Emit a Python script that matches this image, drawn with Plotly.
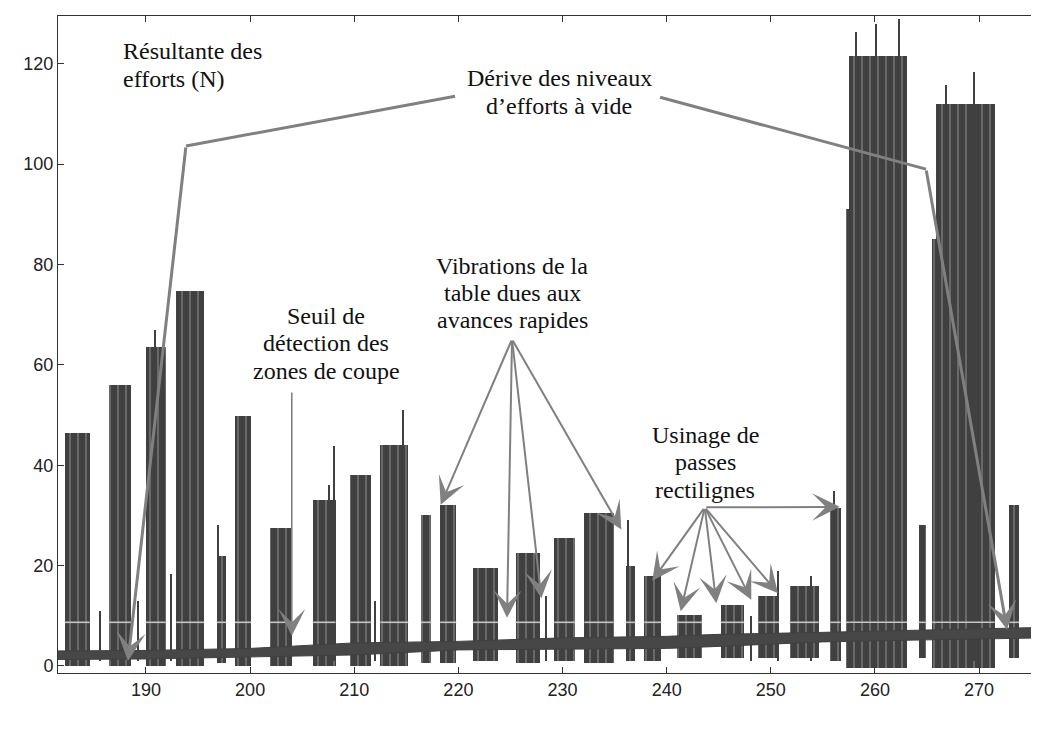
import plotly.graph_objects as go

# ---------------- data ----------------
# cutting zones (dense force oscillations): start / end time (s), top level (N), bottom level (N)
block_start = [182.2, 186.45, 190.0, 192.9, 196.8, 198.55, 201.9, 206.05, 209.6, 212.5, 216.4, 218.25,
               221.4, 225.5, 229.2, 232.1, 236.1, 237.85, 241.0, 245.2, 248.8, 251.8, 255.7,
               257.2, 257.55, 264.2, 265.5, 265.87, 272.9]
block_end = [184.6, 188.6, 191.9, 195.6, 197.7, 200.1, 204.0, 208.2, 211.6, 215.2, 217.4, 219.8,
             223.8, 227.85, 231.2, 234.9, 237.0, 239.5, 243.4, 247.45, 250.8, 254.6, 256.7,
             257.55, 263.1, 264.95, 265.87, 271.5, 273.85]
block_top = [46.5, 56.0, 63.5, 74.7, 22.0, 49.8, 27.5, 33.0, 38.0, 44.0, 30.0, 32.0,
             19.5, 22.5, 25.5, 30.5, 20.0, 18.0, 10.2, 12.2, 14.0, 16.0, 31.5,
             91.0, 121.5, 28.0, 85.0, 112.0, 32.0]
block_bottom = [0.0, 0.0, 0.0, 0.0, 0.5, 0.0, 0.0, 0.0, 0.0, 0.0, 0.5, 0.5,
                1.0, 0.5, 1.0, 0.5, 1.0, 1.0, 1.5, 1.5, 1.5, 1.5, 1.0,
                -0.4, -0.4, 1.5, -0.4, -0.4, 1.5]

# isolated peaks
spike_t = [185.6, 189.2, 190.84, 192.4, 196.9, 207.6, 208.06, 212.0, 214.7, 228.4, 236.3,
           248.1, 250.7, 253.9, 256.1, 258.16, 260.08, 262.29, 266.8, 269.49]
spike_top = [11.0, 13.0, 67.0, 18.3, 28.0, 36.0, 43.8, 13.0, 51.0, 14.0, 29.0,
             10.0, 19.0, 18.0, 34.9, 126.4, 128.0, 129.0, 115.7, 118.3]

# idle-force noise band (no-load level drift)
base_t = [181.55, 190, 200, 210, 220, 230, 240, 245, 255, 265, 276.43]
base_lo = [1.3, 1.4, 1.8, 2.2, 3.2, 3.3, 3.5, 3.9, 4.8, 5.2, 5.6]
base_hi = [3.0, 3.1, 3.5, 4.6, 4.9, 5.6, 5.9, 6.3, 6.7, 7.2, 7.7]

threshold = 8.7

# annotation geometry (data coordinates)
drift_left = dict(start=(219.68, 113.5), kink=(193.84, 103.6), tip=(188.27, 1.0))
drift_right = dict(start=(239.37, 113.3), kink=(264.91, 99.0), tip=(272.69, 7.2))
seuil_arrow = dict(start=(204.0, 54.8), tip=(204.0, 6.0))
vib_origin = (225.15, 65.1)
vib_tip_x = [218.3, 224.67, 227.97, 235.65]
vib_tip_y = [32.1, 9.6, 13.5, 27.2]
usi_origin = (243.66, 31.6)
usi_tip_x = [238.62, 241.35, 244.77, 248.13, 250.7, 256.62]
usi_tip_y = [17.0, 10.9, 12.5, 13.2, 14.5, 31.7]

labels = [
    # (text, x, y, anchor)
    ("Résultante des", 187.6, 122.5, "left"),
    ("efforts (N)", 187.6, 116.9, "left"),
    ("Dérive des niveaux", 229.67, 117.1, "center"),
    ("d’efforts à vide", 229.67, 111.6, "center"),
    ("Seuil de", 207.29, 69.7, "center"),
    ("détection des", 207.29, 64.3, "center"),
    ("zones de coupe", 207.29, 58.8, "center"),
    ("Vibrations de la", 225.15, 79.7, "center"),
    ("table dues aux", 225.15, 74.3, "center"),
    ("avances rapides", 225.15, 68.9, "center"),
    ("Usinage de", 243.69, 46.0, "center"),
    ("passes", 243.69, 40.6, "center"),
    ("rectilignes", 243.69, 35.1, "center"),
    ("temps (s)", 268.27, -11.75, "center"),
]

x_ticks = [190, 200, 210, 220, 230, 240, 250, 260, 270]
y_ticks = [0, 20, 40, 60, 80, 100, 120]
x_range = [181.55, 276.43]
y_range = [-1.4, 129.5]

# ---------------- figure ----------------
DARK = "#404040"
ARROW = "#808080"
SERIF = "Liberation Serif, Times New Roman, serif"

fig = go.Figure()

# noise band
fig.add_trace(go.Scatter(x=base_t, y=base_lo, mode="lines", line=dict(color=DARK, width=1),
                         showlegend=False, hoverinfo="skip"))
fig.add_trace(go.Scatter(x=base_t, y=base_hi, mode="lines", line=dict(color=DARK, width=1),
                         fill="tonexty", fillcolor="#474747", showlegend=False, hoverinfo="skip"))

# cutting zones
fig.add_trace(go.Bar(
    x=[(s + e) / 2 for s, e in zip(block_start, block_end)],
    y=[t - b for t, b in zip(block_top, block_bottom)],
    base=block_bottom,
    width=[e - s for s, e in zip(block_start, block_end)],
    marker=dict(color=DARK, line=dict(width=0),
                pattern=dict(shape="|", fillmode="overlay", fgcolor="#a8a8a8",
                             size=8, solidity=0.2)),
    showlegend=False, hoverinfo="skip"))

# spikes
fig.add_trace(go.Bar(
    x=spike_t, y=[t - 1.0 for t in spike_top], base=[1.0] * len(spike_t),
    width=[0.12] * len(spike_t),
    marker=dict(color=DARK, line=dict(width=0)),
    showlegend=False, hoverinfo="skip"))

# detection threshold, drawn over each cutting zone
thr_x, thr_y = [], []
for s, e in zip(block_start, block_end):
    thr_x += [s, e, None]
    thr_y += [threshold, threshold, None]
fig.add_trace(go.Scatter(x=thr_x, y=thr_y, mode="lines", line=dict(color="#c4c4c4", width=1.6),
                         showlegend=False, hoverinfo="skip"))

# drift lines (first segments)
for d in (drift_left, drift_right):
    fig.add_trace(go.Scatter(x=[d["start"][0], d["kink"][0]], y=[d["start"][1], d["kink"][1]],
                             mode="lines", line=dict(color=ARROW, width=3),
                             showlegend=False, hoverinfo="skip"))

annotations = []


def arrow(tail, tip, width=2.0, size=2.3):
    annotations.append(dict(x=tip[0], y=tip[1], ax=tail[0], ay=tail[1], xref="x", yref="y",
                            axref="x", ayref="y", text="", showarrow=True, arrowhead=3,
                            arrowsize=size, arrowwidth=width, arrowcolor=ARROW, standoff=0))


for d in (drift_left, drift_right):
    arrow(d["kink"], d["tip"], width=3.0, size=1.6)
arrow(seuil_arrow["start"], seuil_arrow["tip"], width=1.6, size=2.8)
for tx, ty in zip(vib_tip_x, vib_tip_y):
    arrow(vib_origin, (tx, ty))
for tx, ty in zip(usi_tip_x, usi_tip_y):
    arrow(usi_origin, (tx, ty))

for text, x, y, anc in labels:
    annotations.append(dict(x=x, y=y, xref="x", yref="y", text=text, showarrow=False,
                            xanchor=anc, yanchor="middle",
                            font=dict(family=SERIF, size=24, color="#111111")))

axis_common = dict(showline=True, linecolor="#333333", linewidth=1, mirror="ticks",
                   ticks="inside", ticklen=6, tickcolor="#333333", showgrid=False,
                   zeroline=False, automargin=False,
                   tickfont=dict(family="Liberation Sans, Arial, sans-serif",
                                 size=18, color="#222222"))

fig.update_layout(
    width=1039, height=731,
    margin=dict(l=50, r=1, t=8, b=66, autoexpand=False),
    paper_bgcolor="white", plot_bgcolor="white",
    barmode="overlay", bargap=0,
    showlegend=False,
    annotations=annotations,
    xaxis=dict(range=x_range, tickvals=x_ticks, ticktext=[str(v) for v in x_ticks], **axis_common),
    yaxis=dict(range=y_range, tickvals=y_ticks, ticktext=[str(v) for v in y_ticks], **axis_common),
)

fig.write_html("out.html")
